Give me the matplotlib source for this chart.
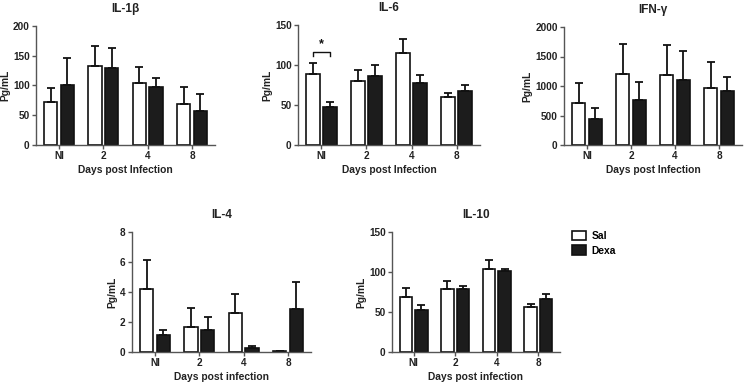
import matplotlib
matplotlib.use("Agg")
import matplotlib.pyplot as plt
from matplotlib import font_manager as fm
import numpy as np
from matplotlib.patches import Patch

cands = [f for f in fm.findSystemFonts() if 'LiberationSans-Bold.ttf' in f]
if cands:
    fm.fontManager.addfont(cands[0])
    fam = fm.FontProperties(fname=cands[0]).get_name()
else:
    fam = 'DejaVu Sans'
plt.rcParams['font.family'] = [fam, 'DejaVu Sans']
plt.rcParams['font.weight'] = 'bold'

categories = ["NI", "2", "4", "8"]
groups = ["Sal", "Dexa"]

il1b_sal = [72, 133, 104, 68]
il1b_sal_err = [23, 33, 27, 29]
il1b_dexa = [101, 129, 98, 57]
il1b_dexa_err = [45, 34, 14, 28]

il6_sal = [89, 80, 115, 60]
il6_sal_err = [13, 14, 17, 5]
il6_dexa = [48, 86, 78, 67]
il6_dexa_err = [6, 14, 9, 8]

ifng_sal = [716, 1210, 1182, 972]
ifng_sal_err = [335, 506, 511, 437]
ifng_dexa = [443, 767, 1097, 915]
ifng_dexa_err = [176, 295, 500, 244]

il4_sal = [4.2, 1.67, 2.58, 0.1]
il4_sal_err = [1.96, 1.24, 1.31, 0.0]
il4_dexa = [1.16, 1.44, 0.29, 2.89]
il4_dexa_err = [0.33, 0.89, 0.09, 1.78]

il10_sal = [68.7, 78.3, 103.5, 56.1]
il10_sal_err = [11.3, 10.9, 12.1, 3.8]
il10_dexa = [52.8, 78.3, 101.8, 65.8]
il10_dexa_err = [6.2, 4.2, 2.5, 6.2]

W, H = 744, 383
fig = plt.figure(figsize=(W / 100, H / 100), dpi=100)

def add_ax(l, r, t, b):
    return fig.add_axes([l / W, 1 - b / H, (r - l) / W, (b - t) / H])

spine_col = '#555555'
txt_col = '#222222'
bw = 0.30
off = 0.1875

def panel(ax, title, sal, sal_e, dexa, dexa_e, ymax, yticks, xlabel="Days post Infection"):
    x = np.arange(len(categories))
    ekw = dict(ecolor='#111111', elinewidth=1.3, capsize=3.2, capthick=1.3)
    ax.bar(x - off, sal, bw, color='white', edgecolor='#111111', linewidth=1.2,
           yerr=[np.zeros(len(sal)), sal_e], error_kw=ekw, zorder=2)
    ax.bar(x + off, dexa, bw, color='#1c1c1c', edgecolor='#111111', linewidth=1.2,
           yerr=[np.zeros(len(dexa)), dexa_e], error_kw=ekw, zorder=2)
    ax.set_xlim(-0.52, 3.52)
    ax.set_ylim(0, ymax)
    ax.set_yticks(yticks)
    ax.set_xticks(x)
    ax.set_xticklabels(categories)
    for s in ['top', 'right']:
        ax.spines[s].set_visible(False)
    for s in ['left', 'bottom']:
        ax.spines[s].set_color(spine_col)
        ax.spines[s].set_linewidth(1.0)
    ax.tick_params(axis='both', length=3, width=1.0, color=spine_col, labelsize=7.2, pad=1.5)
    for lab in ax.get_xticklabels() + ax.get_yticklabels():
        lab.set_fontweight('bold')
        lab.set_color(txt_col)
    ax.set_title(title, fontsize=8.5, fontweight='bold', pad=10, color=txt_col)
    ax.set_xlabel(xlabel, fontsize=7.4, fontweight='bold', labelpad=3, color=txt_col)
    ax.set_ylabel("Pg/mL", fontsize=7.4, fontweight='bold', color=txt_col, labelpad=2)
    return ax

ax1 = add_ax(36, 215, 25.7, 145)
panel(ax1, "IL-1\u03b2", il1b_sal, il1b_sal_err, il1b_dexa, il1b_dexa_err, 200, [0, 50, 100, 150, 200])

ax2 = add_ax(298, 480, 25, 145)
panel(ax2, "IL-6", il6_sal, il6_sal_err, il6_dexa, il6_dexa_err, 150, [0, 50, 100, 150])
bx0, bx1 = -off, off
ax2.plot([bx0, bx0, bx1, bx1], [111, 116.5, 116.5, 111], color='#111111', lw=1.0, zorder=3)
ax2.text(0, 118, "*", ha='center', va='bottom', fontsize=9, fontweight='bold', color='#111111')

ax3 = add_ax(564, 742, 27, 145)
panel(ax3, "IFN-\u03b3", ifng_sal, ifng_sal_err, ifng_dexa, ifng_dexa_err, 2000, [0, 500, 1000, 1500, 2000])

ax4 = add_ax(132, 311, 232, 352)
panel(ax4, "IL-4", il4_sal, il4_sal_err, il4_dexa, il4_dexa_err, 8, [0, 2, 4, 6, 8],
      xlabel="Days post infection")

ax5 = add_ax(392, 560, 232, 352)
panel(ax5, "IL-10", il10_sal, il10_sal_err, il10_dexa, il10_dexa_err, 150, [0, 50, 100, 150],
      xlabel="Days post infection")

handles = [Patch(facecolor='white', edgecolor='#111111', linewidth=1.2),
           Patch(facecolor='#1c1c1c', edgecolor='#111111', linewidth=1.2)]
fig.legend(handles, groups, loc='upper left', bbox_to_anchor=(563 / W, 1 - 222 / H),
           frameon=False, prop={'weight': 'bold', 'size': 7.4},
           handlelength=1.3, handleheight=1.0, handletextpad=0.6, labelspacing=0.4)

fig.savefig("out.png", dpi=100)
